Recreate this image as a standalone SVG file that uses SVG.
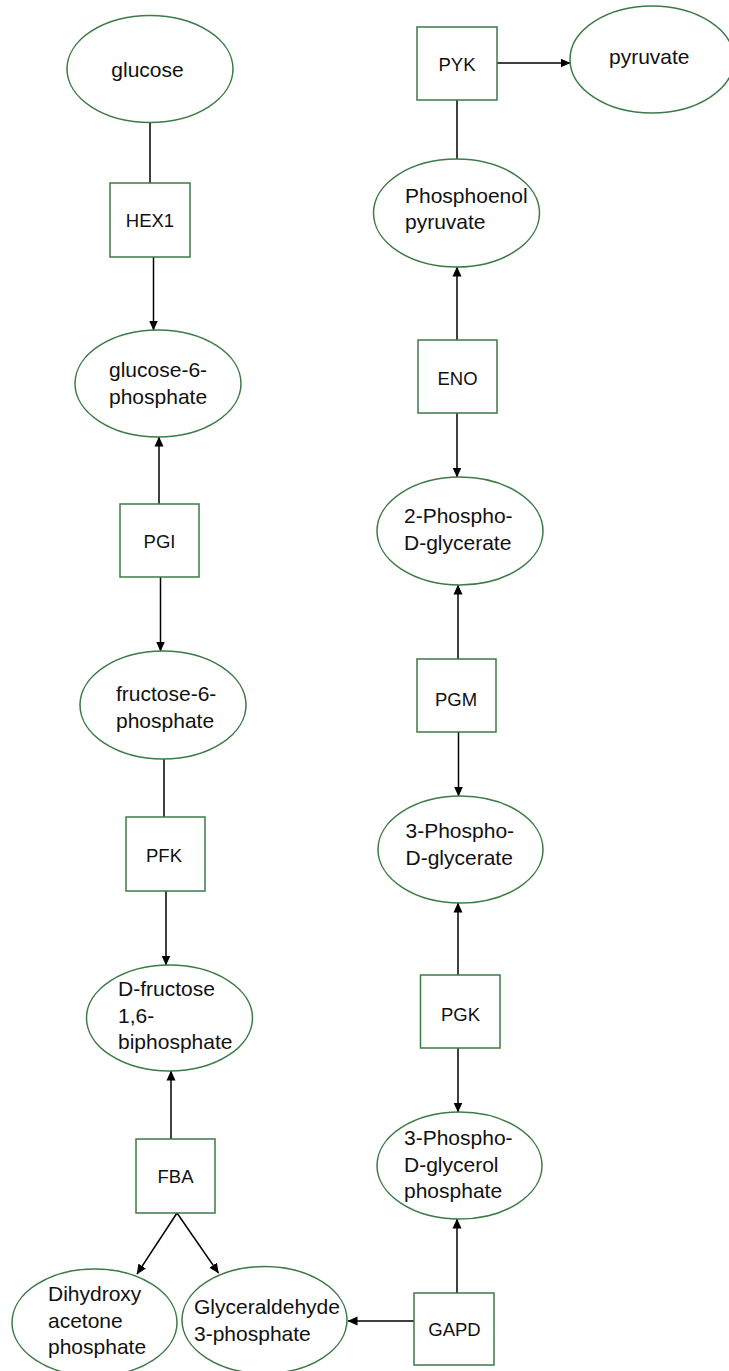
<svg xmlns="http://www.w3.org/2000/svg" width="729" height="1371" viewBox="0 0 729 1371">
<style>
.n{fill:#ffffff;stroke:#3d7a45;stroke-width:1.5}
.m{font-family:"Liberation Sans",Arial,sans-serif;font-size:21px;fill:#111}
.e{font-family:"Liberation Sans",Arial,sans-serif;font-size:18.5px;fill:#111;text-anchor:middle}
.c{stroke:#000;stroke-width:1.5;fill:none}
.a{marker-end:url(#arr)}
</style>
<defs>
<marker id="arr" markerUnits="userSpaceOnUse" markerWidth="10" markerHeight="10" viewBox="0 0 10 10" refX="9.5" refY="5" orient="auto">
<path d="M0,0.5 L10,5 L0,9.5 z" fill="#000"/>
</marker>
</defs>
<rect width="729" height="1371" fill="#ffffff"/>
<g id="connectors">
<line class="c" x1="150" y1="122.5" x2="150" y2="183"/>
<line class="c a" x1="153.5" y1="257" x2="153.5" y2="330"/>
<line class="c a" x1="159" y1="504" x2="159" y2="437"/>
<line class="c a" x1="160.5" y1="577" x2="160.5" y2="651"/>
<line class="c" x1="164" y1="759" x2="164" y2="817"/>
<line class="c a" x1="166" y1="891" x2="166" y2="965"/>
<line class="c a" x1="171" y1="1139" x2="171" y2="1071"/>
<line class="c a" x1="177" y1="1213" x2="137" y2="1274"/>
<line class="c a" x1="177" y1="1213" x2="218.5" y2="1273"/>
<line class="c a" x1="414" y1="1321" x2="348" y2="1321"/>
<line class="c a" x1="457" y1="1293" x2="457" y2="1219"/>
<line class="c a" x1="458" y1="1048" x2="458" y2="1112"/>
<line class="c a" x1="458" y1="975" x2="458" y2="903"/>
<line class="c a" x1="458.5" y1="732" x2="458.5" y2="796"/>
<line class="c a" x1="458" y1="659" x2="458" y2="585"/>
<line class="c a" x1="457" y1="413" x2="457" y2="477"/>
<line class="c a" x1="457" y1="340" x2="457" y2="267"/>
<line class="c" x1="457" y1="159" x2="457" y2="100"/>
<line class="c a" x1="497" y1="63" x2="570" y2="63"/>
</g>
<g id="glucose">
<ellipse class="n" cx="150" cy="69" rx="83" ry="53.5"/>
<text class="m" x="147.5" y="77" text-anchor="middle">glucose</text>
</g>
<g id="HEX1">
<rect class="n" x="110" y="183" width="80" height="74"/>
<text class="e" x="150" y="226.5">HEX1</text>
</g>
<g id="glucose-6-phosphate">
<ellipse class="n" cx="158" cy="383.5" rx="83" ry="53.5"/>
<text class="m" x="109" y="377">glucose-6-<tspan x="109" dy="26.5">phosphate</tspan></text>
</g>
<g id="PGI">
<rect class="n" x="120" y="504" width="79" height="73"/>
<text class="e" x="159.5" y="547.5">PGI</text>
</g>
<g id="fructose-6-phosphate">
<ellipse class="n" cx="163" cy="705" rx="83" ry="54"/>
<text class="m" x="116" y="701">fructose-6-<tspan x="116" dy="26.5">phosphate</tspan></text>
</g>
<g id="PFK">
<rect class="n" x="126" y="817" width="79" height="74"/>
<text class="e" x="164" y="861.5">PFK</text>
</g>
<g id="D-fructose-1-6-biphosphate">
<ellipse class="n" cx="169.5" cy="1018" rx="83" ry="53"/>
<text class="m" x="118" y="996">D-fructose<tspan x="118" dy="26.5">1,6-</tspan><tspan x="118" dy="26.5">biphosphate</tspan></text>
</g>
<g id="FBA">
<rect class="n" x="136" y="1139" width="79" height="74"/>
<text class="e" x="175.5" y="1182.5">FBA</text>
</g>
<g id="dihydroxyacetone-phosphate">
<ellipse class="n" cx="94.5" cy="1322.5" rx="82.5" ry="53.5"/>
<text class="m" x="48" y="1301">Dihydroxy<tspan x="48" dy="26.5">acetone</tspan><tspan x="48" dy="26.5">phosphate</tspan></text>
</g>
<g id="glyceraldehyde-3-phosphate">
<ellipse class="n" cx="264.5" cy="1320" rx="82.5" ry="53.5"/>
<text class="m" x="194" y="1314">Glyceraldehyde<tspan x="194" dy="26.5">3-phosphate</tspan></text>
</g>
<g id="GAPD">
<rect class="n" x="414" y="1293" width="80" height="72"/>
<text class="e" x="454.5" y="1335.5">GAPD</text>
</g>
<g id="3-phospho-D-glycerol-phosphate">
<ellipse class="n" cx="459.5" cy="1165.5" rx="82.5" ry="53.5"/>
<text class="m" x="404" y="1145">3-Phospho-<tspan x="404" dy="26.5">D-glycerol</tspan><tspan x="404" dy="26.5">phosphate</tspan></text>
</g>
<g id="PGK">
<rect class="n" x="420.5" y="975" width="79.5" height="73"/>
<text class="e" x="460.5" y="1020.5">PGK</text>
</g>
<g id="3-phospho-D-glycerate">
<ellipse class="n" cx="460.5" cy="849.5" rx="82.5" ry="53.5"/>
<text class="m" x="405.5" y="838">3-Phospho-<tspan x="405.5" dy="26.5">D-glycerate</tspan></text>
</g>
<g id="PGM">
<rect class="n" x="417" y="659" width="79" height="73"/>
<text class="e" x="456" y="705.5">PGM</text>
</g>
<g id="2-phospho-D-glycerate">
<ellipse class="n" cx="460" cy="531" rx="83" ry="54"/>
<text class="m" x="404" y="523">2-Phospho-<tspan x="404" dy="26.5">D-glycerate</tspan></text>
</g>
<g id="ENO">
<rect class="n" x="418" y="340" width="79" height="73"/>
<text class="e" x="457.5" y="384.5">ENO</text>
</g>
<g id="phosphoenolpyruvate">
<ellipse class="n" cx="456.5" cy="213" rx="83" ry="54"/>
<text class="m" x="405" y="202.5">Phosphoenol<tspan x="405" dy="26.5">pyruvate</tspan></text>
</g>
<g id="PYK">
<rect class="n" x="417" y="27" width="80" height="73"/>
<text class="e" x="457" y="70.5">PYK</text>
</g>
<g id="pyruvate">
<ellipse class="n" cx="652" cy="59.5" rx="82" ry="53.5"/>
<text class="m" x="609" y="64">pyruvate</text>
</g>
</svg>
